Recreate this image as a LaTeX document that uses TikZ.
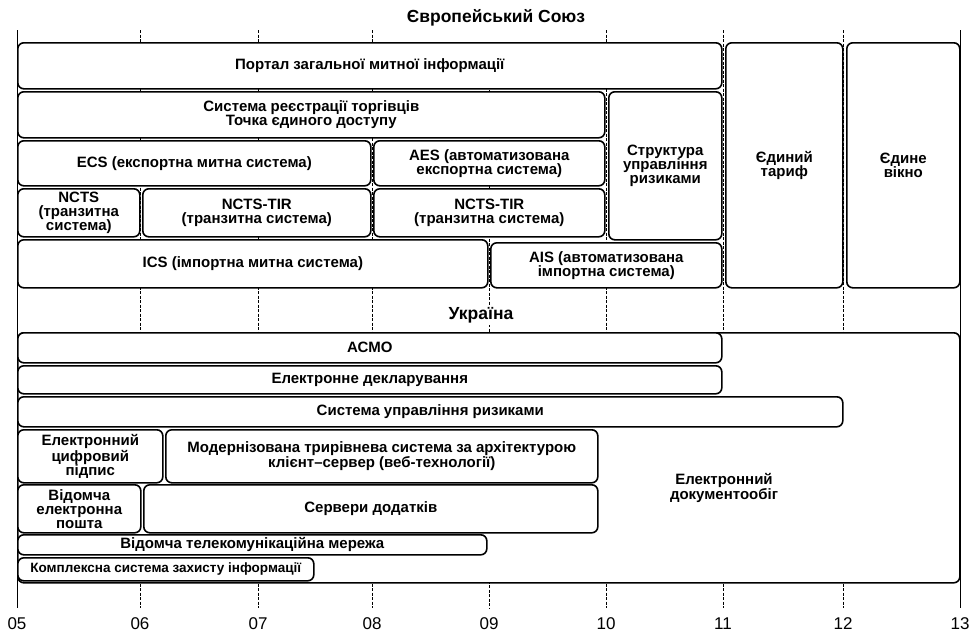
\documentclass[tikz,border=0pt]{standalone}
\usepackage{fontspec}
\setmainfont{Liberation Sans}
\newcommand\bx[6]{\node[box, minimum width={(#4-#2)*1pt}, minimum height={(#5-#3)*1pt}] (#1) at (#2,#3) {#6};}
\begin{document}
\begin{tikzpicture}[x=1pt,y=-1pt,
  box/.style={draw, line width=1.6pt, rounded corners=6pt, fill=white, align=center, inner sep=1pt,
    font=\bfseries\fontsize{15}{14}\selectfont, anchor=north west},
  gridl/.style={line width=0.6pt, dash pattern=on 3pt off 1.5pt},
  edge/.style={line width=0.8pt},
  ttl/.style={font=\bfseries\fontsize{17.5}{17.5}\selectfont, fill=white, inner sep=2pt},
  ax/.style={font=\fontsize{17}{17}\selectfont, anchor=base, inner sep=0pt}]
\useasboundingbox (0,0) rectangle (972,632);
% grid lines
\foreach \x/\l/\t in {140/06/30,258/07/30,372/08/30,489/09/45,606/10/30,723/11/30,843/12/30} {
  \draw[gridl] (\x,\t) -- (\x,608);
}
\draw[edge] (17,30) -- (17,608);
\draw[edge] (960,30) -- (960,608);
\foreach \x/\l in {17/05,140/06,258/07,372/08,489/09,606/10,723/11,843/12,960/13} {
  \node[ax] (ax\l) at (\x,629) {\l};
}
% titles
\node[ttl] (eu) at (496,18) {Європейський Союз};
\node[ttl] (ua) at (481,315) {Україна};
% EU boxes
\bx{portal}{17}{42}{721}{88}{Портал загальної митної інформації}
\bx{tarif}{725}{42}{842}{287}{Єдиний\\тариф}
\bx{vikno}{846}{42}{959}{287}{Єдине\\вікно}
\bx{reg}{17}{91}{604}{137}{Система реєстрації торгівців\\Точка єдиного доступу}
\bx{struct}{608}{91}{721}{239}{Структура\\управління\\ризиками}
\bx{ecs}{17}{140}{370}{185}{ECS (експортна митна система)}
\bx{aes}{373}{140}{604}{185}{AES (автоматизована\\експортна система)}
\bx{ncts}{17}{188}{139}{236}{NCTS\\(транзитна\\система)}
\bx{tirA}{142}{188}{370}{236}{NCTS-TIR\\(транзитна система)}
\bx{tirB}{373}{188}{604}{236}{NCTS-TIR\\(транзитна система)}
\bx{ics}{17}{239}{487}{287}{ICS (імпортна митна система)}
\bx{ais}{490}{242}{721}{287}{AIS (автоматизована\\імпортна система)}
% Ukraine boxes
\bx{docs}{17}{332}{959}{582}{}
\node[font=\bfseries\fontsize{15}{14}\selectfont, align=center] (docstxt) at (724,488) {Електронний\\документообіг};
\bx{acmo}{17}{332}{721}{362}{АСМО}
\bx{decl}{17}{365}{721}{393}{Електронне декларування}
\bx{risk}{17}{396}{842}{426}{Система управління ризиками}
\bx{ecp}{17}{429}{162}{482}{Електронний\\цифровий\\підпис}
\bx{modern}{165}{429}{597}{482}{Модернізована трирівнева система за архітектурою\\клієнт--сервер (веб-технології)}
\bx{mail}{17}{484}{140}{532}{Відомча\\електронна\\пошта}
\bx{servers}{143}{484}{597}{532}{Сервери додатків}
\bx{telecom}{17}{534}{486}{554}{Відомча телекомунікаційна мережа}
\bx{ksz}{17}{557}{313}{580}{\bfseries\fontsize{13.5}{13.5}\selectfont Комплексна система захисту інформації}
\end{tikzpicture}
\end{document}
